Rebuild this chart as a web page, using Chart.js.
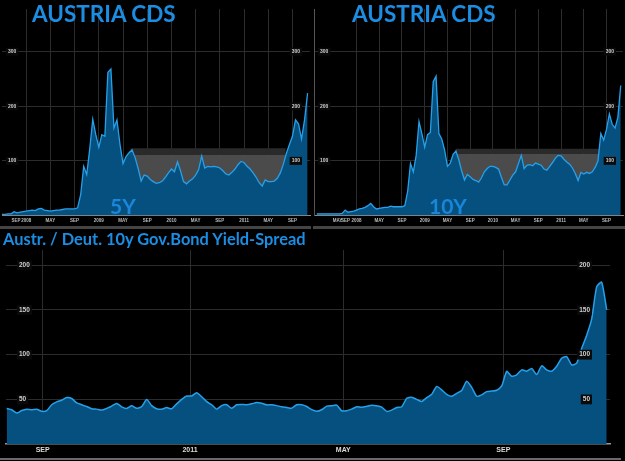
<!DOCTYPE html>
<html>
<head>
<meta charset="utf-8">
<script src="https://cdn.jsdelivr.net/npm/chart.js@4"></script>
<style>
  body { margin: 0; background: #000; width: 625px; height: 461px; overflow: hidden; position: relative; }
  canvas { position: absolute; }
  .title { position: absolute; color: #1b8ee4; font-family: Lato, "Liberation Sans", sans-serif; font-weight: bold; white-space: nowrap; line-height: 1; }
  .tag { position: absolute; color: #1a86da; font-family: Lato, "Liberation Sans", sans-serif; font-weight: bold; line-height: 1; }
  .rule { position: absolute; }
</style>
</head>
<body>
<canvas id="cds5" width="312" height="226" style="left:0;top:0"></canvas>
<canvas id="cds10" width="313" height="226" style="left:312px;top:0"></canvas>
<canvas id="spread" width="625" height="232" style="left:0;top:229px"></canvas>

<div class="title" style="left:32px;top:3px;font-size:22.5px">AUSTRIA CDS</div>
<div class="title" style="left:352px;top:3px;font-size:22.5px">AUSTRIA CDS</div>
<div class="tag" style="left:110px;top:195px;font-size:21px">5Y</div>
<div class="tag" style="left:429px;top:195px;font-size:21px">10Y</div>
<div class="title" style="left:3px;top:231px;font-size:16.4px">Austr. / Deut. 10y Gov.Bond Yield-Spread</div>

<div class="rule" style="left:0;top:226px;width:311px;height:3px;background:#444"></div>
<div class="rule" style="left:313px;top:226px;width:312px;height:3px;background:#444"></div>
<div class="rule" style="left:0;top:458px;width:621px;height:2px;background:#6a6a6a"></div>

<script>
// Austria CDS, bp, half-month readings. x unit = months since Jan 2007
const cds5Start = 8;      // Sep 2007
const cds5Values = [
  2, 2, 3, 3, 7, 5, 6, 7, 8, 9,
  10, 9, 12, 13, 10, 9, 8, 9, 10, 10,
  11, 12, 12, 12, 12, 14, 38, 90, 75, 122,
  176, 148, 125, 148, 145, 262, 268, 160, 175, 130,
  95, 108, 115, 120, 106, 86, 63, 74, 72, 66,
  62, 59, 60, 63, 70, 78, 85, 80, 98, 82,
  62, 58, 63, 67, 74, 84, 109, 87, 90, 89,
  90, 89, 87, 82, 76, 74, 79, 85, 93, 99,
  97, 90, 85, 78, 70, 60, 54, 65, 62, 62,
  63, 68, 78, 94, 114, 130, 145, 175, 168, 140,
  175, 224
];

const cds10Start = 5;     // Jun 2007
const cds10Values = [
  3, 3, 3, 3, 3, 3, 3, 3, 3, 4,
  10, 6, 7, 8, 10, 12, 13, 15, 18, 22,
  16, 12, 13, 14, 15, 15, 17, 16, 16, 16,
  16, 18, 44, 95, 80, 110, 172, 150, 125, 148,
  152, 245, 255, 150, 140, 120, 90, 96, 112, 118,
  102, 82, 65, 75, 71, 66, 64, 61, 69, 80,
  86, 90, 90, 88, 85, 70, 56, 56, 65, 74,
  80, 95, 110, 86, 92, 93, 91, 96, 94, 92,
  85, 83, 90, 97, 105, 110, 109, 103, 98, 94,
  87, 77, 64, 79, 76, 79, 77, 80, 88, 100,
  150, 138, 158, 186, 167, 160, 180, 238
];

// grey range box: [from month, to month, top, band bottom]
const cds5Range = [29.2, 54.9, 123, 111];
const cds10Range = [29.4, 54.9, 122, 113];

const cds5TickPos = [10.3, 12, 16, 20, 24, 28, 32, 36, 40, 44, 48, 52, 56];
const cds5TickLabels = ['SEP', '2008', 'MAY', 'SEP', '2009', 'MAY', 'SEP', '2010', 'MAY', 'SEP', '2011', 'MAY', 'SEP'];
const cds10TickPos = [8.65, 10.06, 12, 16, 20, 24, 28, 32, 36, 40, 44, 48, 52, 56];
const cds10TickLabels = ['MAY', 'SEP', '2008', 'MAY', 'SEP', '2009', 'MAY', 'SEP', '2010', 'MAY', 'SEP', '2011', 'MAY', 'SEP'];
const cdsYTicks = [100, 200, 300];

// Austria / Germany 10y yield spread, bp, one reading per sample step
const spreadValues = [
  39.9, 38.4, 34.7, 37.5, 39, 38.4, 39, 36.6, 37.3, 44,
  47.2, 49, 52, 51, 46, 44, 42, 39.6, 39.1, 38,
  39.9, 42.5, 45.5, 41.7, 39.9, 42.8, 40, 42, 49.8, 43,
  39.5, 39, 40.8, 39.5, 45, 50, 53.8, 53.8, 57.5, 53,
  47.5, 44, 39.1, 43, 44, 40, 44, 44.4, 43.9, 45,
  46.5, 45.7, 43.9, 43.9, 43, 41.8, 41, 40.2, 43.9, 43.9,
  42, 38.5, 36.8, 38.4, 42.5, 42.8, 43.6, 37.3, 37.3, 39.1,
  41.7, 41.2, 42.2, 43.5, 42.8, 41.3, 36.6, 38, 41, 41.7,
  51.2, 52.5, 50, 47.6, 52, 55.6, 64.5, 60.7, 55.6, 53.4,
  56.7, 60, 70.3, 63.5, 53.5, 55, 58.7, 59.3, 60.2, 65,
  81.3, 75.8, 77.5, 83, 81.5, 84.5, 77.7, 87.5, 83, 81.5,
  87, 96, 97.9, 88.5, 90.5, 107, 121.7, 140, 176, 181,
  150
];
const spreadTickPos = [7.2, 36.66, 67.32, 99.32];
const spreadTickLabels = ['SEP', '2011', 'MAY', 'SEP'];
const spreadYTicks = [50, 100, 150, 200];

const LINE = '#27a0ea';
const FILL = '#05507f';
const GRID = '#2c2c2c';

Chart.defaults.font.family = '"Liberation Sans", Arial, sans-serif';
Chart.defaults.animation = false;

function yLabelTicks(size, pad) {
  return {
    mirror: true,
    padding: pad,
    z: 1,
    color: '#cfcfcf',
    font: { size: size, weight: 'bold' },
    showLabelBackdrop: true,
    backdropColor: '#0a0a0a',
    backdropPadding: { x: 2, y: 1 }
  };
}

function cdsChart(id, start, values, range, tickPos, tickLabels, xMin, xMax, yBorder, rightPad) {
  const points = values.map((v, i) => ({ x: start + i * 0.5, y: v }));
  const band = [{ x: range[0], y: range[2] }, { x: range[1], y: range[2] }];
  const body = [{ x: range[0], y: range[3] }, { x: range[1], y: range[3] }];

  return new Chart(document.getElementById(id), {
    type: 'line',
    data: {
      datasets: [
        { data: points, borderColor: LINE, borderWidth: 1.3, backgroundColor: FILL, fill: 'origin', pointRadius: 0, tension: 0, order: 0 },
        { data: body, borderColor: 'rgba(0,0,0,0)', backgroundColor: '#4b4b4b', fill: 'origin', pointRadius: 0, order: 1 },
        { data: band, borderColor: 'rgba(0,0,0,0)', backgroundColor: '#2a2a2a', fill: { value: range[3] }, pointRadius: 0, order: 2 }
      ]
    },
    options: {
      responsive: false,
      devicePixelRatio: 1,
      layout: { padding: { left: 2, right: 2, top: 0, bottom: 0 } },
      plugins: { legend: { display: false }, tooltip: { enabled: false } },
      scales: {
        x: {
          type: 'linear',
          min: xMin,
          max: xMax,
          afterBuildTicks: s => { s.ticks = tickPos.map(v => ({ value: v })); },
          afterFit: s => { s.height = 10.5; },
          ticks: {
            autoSkip: false, maxRotation: 0, minRotation: 0, padding: 3,
            color: '#bdbdbd', font: { size: 4.5, weight: 'bold' },
            callback: (v, i) => tickLabels[i]
          },
          grid: { color: c => (c.tick && c.tick.value < 12) ? 'rgba(0,0,0,0)' : GRID, drawTicks: false },
          border: { display: true, color: '#8c8c8c', width: 1 }
        },
        y: {
          position: 'left',
          min: 0,
          max: 378,
          afterBuildTicks: s => { s.ticks = cdsYTicks.map(v => ({ value: v })); },
          afterFit: s => { s.width = 0; },
          ticks: yLabelTicks(5, 6),
          grid: { color: GRID, drawTicks: false },
          border: { display: yBorder, color: '#555' }
        },
        y2: {
          position: 'right',
          min: 0,
          max: 378,
          afterBuildTicks: s => { s.ticks = cdsYTicks.map(v => ({ value: v })); },
          afterFit: s => { s.width = 0; },
          ticks: yLabelTicks(5, rightPad),
          grid: { display: false, drawTicks: false },
          border: { display: false }
        }
      }
    }
  });
}

cdsChart('cds5', cds5Start, cds5Values, cds5Range, cds5TickPos, cds5TickLabels, 8, 58.9, false, -10);
cdsChart('cds10', cds10Start, cds10Values, cds10Range, cds10TickPos, cds10TickLabels, 4.52, 58.9, true, -9);

new Chart(document.getElementById('spread'), {
  type: 'line',
  data: {
    datasets: [{
      data: spreadValues.map((v, i) => ({ x: i, y: v })),
      borderColor: LINE, borderWidth: 1.5, backgroundColor: FILL, fill: 'origin', pointRadius: 0, tension: 0.2
    }]
  },
  options: {
    responsive: false,
    devicePixelRatio: 1,
    layout: { padding: { left: 6, right: 15, top: 21, bottom: 0 } },
    plugins: { legend: { display: false }, tooltip: { enabled: false } },
    scales: {
      x: {
        type: 'linear',
        min: -0.14,
        max: 120.66,
        afterBuildTicks: s => { s.ticks = spreadTickPos.map(v => ({ value: v })); },
        afterFit: s => { s.height = 13.5; },
        ticks: {
          autoSkip: false, maxRotation: 0, minRotation: 0, padding: 2,
          color: '#dcdcdc', font: { size: 7, weight: 'bold' },
          callback: (v, i) => spreadTickLabels[i]
        },
        grid: { color: GRID, drawTicks: false },
        border: { display: true, color: '#9a9a9a', width: 1.5 }
      },
      y: {
        position: 'left',
        min: 0,
        max: 217,
        afterBuildTicks: s => { s.ticks = spreadYTicks.map(v => ({ value: v })); },
        afterFit: s => { s.width = 0; },
        ticks: yLabelTicks(6.5, 13),
        grid: { color: GRID, drawTicks: false },
        border: { display: false }
      },
      y2: {
        position: 'right',
        min: 0,
        max: 217,
        afterBuildTicks: s => { s.ticks = spreadYTicks.map(v => ({ value: v })); },
        afterFit: s => { s.width = 0; },
        ticks: yLabelTicks(6.5, -20),
        grid: { display: false, drawTicks: false },
        border: { display: false }
      }
    }
  }
});
</script>
</body>
</html>
